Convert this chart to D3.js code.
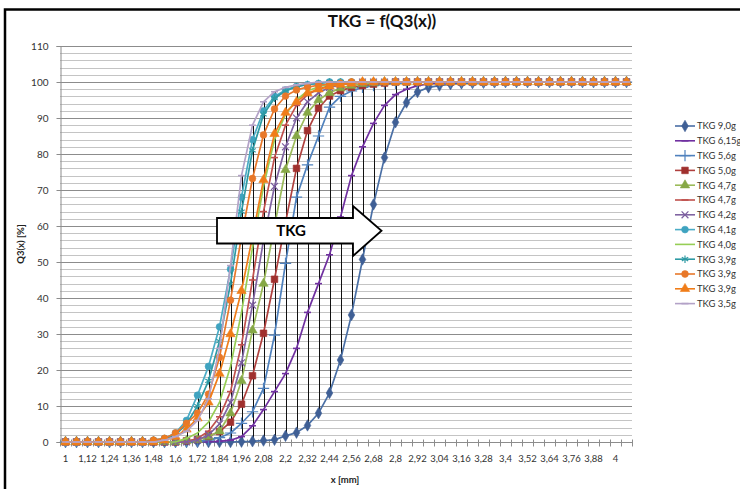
<!DOCTYPE html>
<html>
<head>
<meta charset="utf-8">
<script src="https://cdn.jsdelivr.net/npm/d3@7"></script>
<style>
  body { margin: 0; background: #fff; }
  text { font-family: Lato, "Liberation Sans", sans-serif; }
</style>
</head>
<body>
<script>
// x categories, grain size [mm], step 0.06
const categories = ["1","1,06","1,12","1,18","1,24","1,3","1,36","1,42","1,48","1,54",
  "1,6","1,66","1,72","1,78","1,84","1,9","1,96","2,02","2,08","2,14",
  "2,2","2,26","2,32","2,38","2,44","2,5","2,56","2,62","2,68","2,74",
  "2,8","2,86","2,92","2,98","3,04","3,1","3,16","3,22","3,28","3,34",
  "3,4","3,46","3,52","3,58","3,64","3,7","3,76","3,82","3,88","3,94",
  "4","4,06"];

const yTicks = [0,10,20,30,40,50,60,70,80,90,100,110];

// Q3(x) [%] per series
const tkg90  = [0,0,0,0,0,0,0,0,0,0, 0,0,0,0,0,0,0.1,0.2,0.4,0.6, 1.7,2.6,4.6,8,13.6,22.8,35.3,50.7,66,79, 88.8,94.3,97.2,98.5,99,99.4,99.6,99.7,99.8,99.9, 100,100,100,100,100,100,100,100,100,100, 100,100];
const tkg615 = [0,0,0,0,0,0,0,0,0,0, 0,0,0,0.1,0.2,0.5,1.5,4.5,9,14, 19,26,36,44,52,62.5,74,82,88.5,93.5, 96.5,98,99,99.5,99.7,99.8,99.9,100,100,100, 100,100,100,100,100,100,100,100,100,100, 100,100];
const tkg56  = [0,0,0,0,0,0,0,0,0,0, 0,0,0.2,0.5,1.2,2.5,5.2,8.4,14.9,29.7, 49.6,68,77,85,93,96,97.5,98.5,99,99.4, 99.6,99.8,100,100,100,100,100,100,100,100, 100,100,100,100,100,100,100,100,100,100, 100,100];
const tkg50  = [0,0,0,0,0,0,0,0,0,0, 0,0.3,0.7,1.5,2.9,5.5,10.5,18.4,30.2,45.2, 61,76,86.5,92.7,96.1,97.6,98.5,99,99.4,99.7, 100,100,100,100,100,100,100,100,100,100, 100,100,100,100,100,100,100,100,100,100, 100,100];
const tkg47a = [0,0,0,0,0,0,0,0,0,0, 0,0.3,0.6,1.5,3,8,17,31,44,60, 75.6,85,91.5,95,97,98.3,99,99.5,99.7,100, 100,100,100,100,100,100,100,100,100,100, 100,100,100,100,100,100,100,100,100,100, 100,100];
const tkg47b = [0,0,0,0,0,0,0,0,0,0, 0,0,1,3,7,14,27,45,64,79, 88,93.5,96.5,98,99,99.5,100,100,100,100, 100,100,100,100,100,100,100,100,100,100, 100,100,100,100,100,100,100,100,100,100, 100,100];
const tkg42  = [0,0,0,0,0,0,0,0,0,0, 0,0,0.5,2,5,11,22,38,56,71, 82,90,94.5,97,98.5,99.2,99.6,100,100,100, 100,100,100,100,100,100,100,100,100,100, 100,100,100,100,100,100,100,100,100,100, 100,100];
const tkg41  = [0,0,0,0,0,0,0,0,0.5,1, 2.5,6,13,21,32,48,68,84,92,96, 97.8,98.8,99.3,99.6,100,100,100,100,100,100, 100,100,100,100,100,100,100,100,100,100, 100,100,100,100,100,100,100,100,100,100, 100,100];
const tkg40  = [0,0,0,0,0,0,0,0,0,0, 0,1,2.5,5.5,11,21,36,54,71,84, 91,95,97.5,98.7,99.3,99.7,100,100,100,100, 100,100,100,100,100,100,100,100,100,100, 100,100,100,100,100,100,100,100,100,100, 100,100];
const tkg39a = [0,0,0,0,0,0,0,0,0.3,0.8, 2,5,10,17,28,44,64,81,91,95.5, 97.5,98.7,99.3,99.6,100,100,100,100,100,100, 100,100,100,100,100,100,100,100,100,100, 100,100,100,100,100,100,100,100,100,100, 100,100];
const tkg39b = [0,0,0,0,0,0,0,0,0.5,1, 2.5,5.2,8,13.3,23.5,39.4,57,73.2,85.3,92.5, 96.1,97.8,98.6,99.1,99.4,99.6,100,100,100,100, 100,100,100,100,100,100,100,100,100,100, 100,100,100,100,100,100,100,100,100,100, 100,100];
const tkg39c = [0,0,0,0,0,0,0,0,0,0.5, 1.5,3.5,6.6,11,19,30,42,57,72.8,85.6, 91.5,94.5,96.9,98,98.8,99.3,99.6,100,100,100, 100,100,100,100,100,100,100,100,100,100, 100,100,100,100,100,100,100,100,100,100, 100,100];
const tkg35  = [0,0,0,0,0,0,0,0,0,0.5, 1.5,3,6,12,26,49,74,88,94.5,97.3, 98.5,99.2,99.6,100,100,100,100,100,100,100, 100,100,100,100,100,100,100,100,100,100, 100,100,100,100,100,100,100,100,100,100, 100,100];

const seriesNames = ["TKG 9,0g","TKG 6,15g","TKG 5,6g","TKG 5,0g","TKG 4,7g","TKG 4,7g","TKG 4,2g",
  "TKG 4,1g","TKG 4,0g","TKG 3,9g","TKG 3,9g","TKG 3,9g","TKG 3,5g"];
const seriesValues = [tkg90, tkg615, tkg56, tkg50, tkg47a, tkg47b, tkg42, tkg41, tkg40, tkg39a, tkg39b, tkg39c, tkg35];
const seriesColors = ["#4A6FA5","#7030A0","#4F81BD","#B0403E","#9BBB59","#C0504D","#8064A2",
  "#4BACC6","#96CE55","#2E9AA4","#E8782A","#F07D19","#B3A2C7"];
const markerColors = ["#3F5F95","#7030A0","#4F81BD","#A0302E","#86A846","#C0504D","#7A5C9E",
  "#3FA3C0","#96CE55","#2E9AA4","#E8782A","#F07D19","#B3A2C7"];
const seriesMarkers = ["diamond","dash","plus","square","triangle","dash","times",
  "circle","none","asterisk","circle","triangle","dash"];

const series = seriesNames.map((name, k) => ({
  name, values: seriesValues[k], color: seriesColors[k], mcolor: markerColors[k], marker: seriesMarkers[k]
}));

const W = 740, H = 489;
const margin = {top: 46, left: 60, right: 108, bottom: 47};

const svg = d3.select("body").append("svg")
  .attr("width", W).attr("height", H);

const x = d3.scaleBand().domain(categories).range([margin.left, W - margin.right]);
const y = d3.scaleLinear().domain([0, 110]).range([H - margin.bottom, margin.top]);
const cx = c => x(c) + x.bandwidth() / 2;

// frame of the page clip
svg.append("path").attr("d", `M5,${H} L5,9.5 L${W},9.5`)
  .attr("fill", "none").attr("stroke", "#000").attr("stroke-width", 2.5);

// title
svg.append("text").attr("x", 382).attr("y", 27).attr("text-anchor", "middle")
  .attr("font-size", 17).attr("font-weight", "bold").attr("fill", "#111")
  .text("TKG = f(Q3(x))");

// grid lines
const minor = d3.range(0, 111, 2).filter(v => v % 10 !== 0);
svg.append("g").selectAll("line").data(minor).join("line")
  .attr("x1", margin.left).attr("x2", W - margin.right)
  .attr("y1", d => Math.round(y(d)) + 0.5).attr("y2", d => Math.round(y(d)) + 0.5)
  .attr("stroke", "#C4C4C4").attr("stroke-width", 1);
svg.append("g").selectAll("line").data(yTicks).join("line")
  .attr("x1", margin.left).attr("x2", W - margin.right)
  .attr("y1", d => Math.round(y(d)) + 0.5).attr("y2", d => Math.round(y(d)) + 0.5)
  .attr("stroke", "#8C8C8C").attr("stroke-width", 1);

// y axis
const yAxis = svg.append("g").attr("transform", `translate(${margin.left + 0.5},0)`)
  .call(d3.axisLeft(y).tickValues(yTicks).tickSize(4).tickPadding(8));
yAxis.select(".domain").attr("stroke", "#8C8C8C");
yAxis.selectAll(".tick line").attr("stroke", "#8C8C8C");
yAxis.selectAll("text").attr("font-size", 10).attr("fill", "#333")
  .attr("font-family", "Lato, 'Liberation Sans', sans-serif");

// x axis: labels every second category, ticks between categories
const y0 = Math.round(y(0)) + 0.5;
const xAxis = svg.append("g").attr("transform", `translate(0,${y0})`)
  .call(d3.axisBottom(x).tickValues(categories.filter((d, i) => i % 2 === 0)).tickSize(0).tickPadding(13));
xAxis.select(".domain").remove();
xAxis.selectAll("text").attr("font-size", 9.5).attr("fill", "#333")
  .attr("font-family", "Lato, 'Liberation Sans', sans-serif");
svg.append("line").attr("x1", margin.left).attr("x2", W - margin.right)
  .attr("y1", y0).attr("y2", y0).attr("stroke", "#8C8C8C");
const bounds = categories.map(c => x(c)).concat([x(categories[categories.length - 1]) + x.bandwidth()]);
svg.append("g").selectAll("line").data(bounds).join("line")
  .attr("x1", d => Math.round(d) + 0.5).attr("x2", d => Math.round(d) + 0.5)
  .attr("y1", y0 - 3).attr("y2", y0 + 4)
  .attr("stroke", "#8C8C8C");

// axis titles
svg.append("text").attr("transform", `translate(24,${(y(0) + y(110)) / 2}) rotate(-90)`)
  .attr("text-anchor", "middle").attr("font-size", 9.5).attr("font-weight", "bold").attr("fill", "#222")
  .text("Q3(x) [%]");
svg.append("text").attr("x", 345).attr("y", 483).attr("text-anchor", "middle")
  .attr("font-size", 9.5).attr("font-weight", "bold").attr("fill", "#222")
  .text("x [mm]");

// high-low lines across all series
const hl = categories.map((c, i) => {
  const vals = seriesValues.map(s => s[i]);
  return {c, lo: d3.min(vals), hi: d3.max(vals)};
});
svg.append("g").selectAll("line").data(hl).join("line")
  .attr("x1", d => Math.round(cx(d.c)) + 0.5).attr("x2", d => Math.round(cx(d.c)) + 0.5)
  .attr("y1", d => y(d.lo)).attr("y2", d => y(d.hi))
  .attr("stroke", "#111").attr("stroke-width", 1);

// markers
const symbolOf = {
  diamond: d3.symbol(d3.symbolDiamond, 38),
  square: d3.symbol(d3.symbolSquare, 44),
  triangle: d3.symbol(d3.symbolTriangle, 38),
  circle: d3.symbol(d3.symbolCircle, 36),
  plus: d3.symbol(d3.symbolPlus, 44),
  times: d3.symbol(d3.symbolTimes, 32),
  asterisk: d3.symbol(d3.symbolAsterisk, 38)
};
const stroked = {plus: true, times: true, asterisk: true};

function drawMarker(g, m, color) {
  if (m === "none") return;
  if (m === "dash") {
    g.append("line").attr("x1", -3.5).attr("x2", 3.5).attr("y1", 0).attr("y2", 0)
      .attr("stroke", color).attr("stroke-width", 1.6);
    return;
  }
  g.append("path").attr("d", symbolOf[m]())
    .attr("fill", stroked[m] ? "none" : color)
    .attr("stroke", color).attr("stroke-width", stroked[m] ? 1.2 : 0.6);
}

const line = d3.line().x((d, i) => cx(categories[i])).y(d => y(d));

const sg = svg.append("g").selectAll("g").data(series).join("g");
sg.append("path").attr("d", d => line(d.values))
  .attr("fill", "none").attr("stroke", d => d.color).attr("stroke-width", 1.7)
  .attr("stroke-linejoin", "round");
sg.each(function(s) {
  const g = d3.select(this);
  s.values.forEach((v, i) => {
    const mg = g.append("g").attr("transform", `translate(${cx(categories[i])},${y(v)})`);
    drawMarker(mg, s.marker, s.mcolor);
  });
});

// block arrow annotation
const arrow = {x0: 217, x1: 353, top: 218, bot: 243.5, headTop: 206, headBot: 256, tip: 381.5};
const midY = (arrow.top + arrow.bot) / 2;
svg.append("path")
  .attr("d", `M${arrow.x0},${arrow.top} L${arrow.x1},${arrow.top} L${arrow.x1},${arrow.headTop} L${arrow.tip},${midY} L${arrow.x1},${arrow.headBot} L${arrow.x1},${arrow.bot} L${arrow.x0},${arrow.bot} Z`)
  .attr("fill", "#fff").attr("stroke", "#000").attr("stroke-width", 1.8).attr("stroke-linejoin", "miter");
svg.append("text").attr("x", 291).attr("y", midY + 5.5).attr("text-anchor", "middle")
  .attr("font-size", 15).attr("font-weight", "bold").attr("fill", "#000").text("TKG");

// legend
const lg = svg.append("g").attr("transform", "translate(675,126)");
const li = lg.selectAll("g").data(series).join("g")
  .attr("transform", (d, i) => `translate(0,${i * 14.8})`);
li.append("line").attr("x1", 0).attr("x2", 20).attr("y1", 0).attr("y2", 0)
  .attr("stroke", d => d.color).attr("stroke-width", 1.6);
li.each(function(s) {
  const mg = d3.select(this).append("g").attr("transform", "translate(10,0)");
  drawMarker(mg, s.marker, s.mcolor);
});
li.append("text").attr("x", 22).attr("y", 3.4).attr("font-size", 9.5).attr("fill", "#333")
  .text(d => d.name);
</script>
</body>
</html>
